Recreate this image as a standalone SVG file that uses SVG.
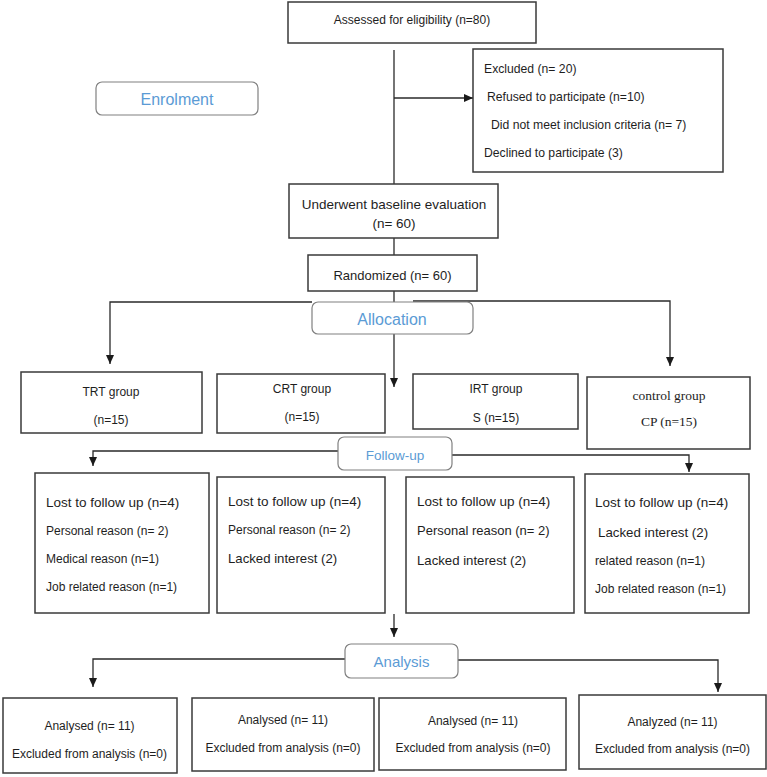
<svg xmlns="http://www.w3.org/2000/svg" width="767" height="777" viewBox="0 0 767 777">
<defs>
<marker id="ah" markerUnits="userSpaceOnUse" markerWidth="9" markerHeight="9" viewBox="0 0 9 9" refX="9" refY="4.5" orient="auto">
<path d="M0,0.5 L9,4.5 L0,8.5 Z" fill="#1a1a1a"/>
</marker>
<style>
.box{fill:#fff;stroke:#3a3a3a;stroke-width:1.5}
.rbox{fill:#fff;stroke:#808080;stroke-width:1.2}
.ln{fill:none;stroke:#2a2a2a;stroke-width:1.3}
.t{font-family:"Liberation Sans",Arial,sans-serif;fill:#1e1e1e}
.c{text-anchor:middle}
.b{font-family:"Liberation Sans",Arial,sans-serif;fill:#5b9bd5;text-anchor:middle}
.s{font-family:"Liberation Serif","Times New Roman",serif;fill:#1e1e1e;text-anchor:middle}
</style>
</defs>
<rect width="767" height="777" fill="#fff"/>

<g id="connectors">
<line class="ln" x1="394" y1="50" x2="394" y2="184"/>
<line class="ln" x1="394" y1="98" x2="473" y2="98" marker-end="url(#ah)"/>
<line class="ln" x1="394" y1="238" x2="394" y2="255"/>
<line class="ln" x1="394" y1="291" x2="394" y2="302"/>
<polyline class="ln" points="312,302 110,302 110,364" marker-end="url(#ah)"/>
<polyline class="ln" points="413,301 670,301 670,366" marker-end="url(#ah)"/>
<line class="ln" x1="394" y1="334" x2="394" y2="387" marker-end="url(#ah)"/>
<polyline class="ln" points="338,451 93,451 93,466" marker-end="url(#ah)"/>
<polyline class="ln" points="452,455 689,455 689,472" marker-end="url(#ah)"/>
<line class="ln" x1="394" y1="614" x2="394" y2="637" marker-end="url(#ah)"/>
<polyline class="ln" points="345,659 93,659 93,687" marker-end="url(#ah)"/>
<polyline class="ln" points="458,660 718,660 718,692" marker-end="url(#ah)"/>
</g>

<g id="assessed">
<rect class="box" x="288" y="2" width="248" height="41"/>
<text class="t c" x="412" y="24.3" font-size="12">Assessed for eligibility (n=80)</text>
</g>

<g id="enrolment">
<rect class="rbox" x="96" y="82" width="162" height="33" rx="6"/>
<text class="b" x="177" y="104.7" font-size="16">Enrolment</text>
</g>

<g id="excluded">
<rect class="box" x="473" y="49" width="250" height="123"/>
<text class="t" x="484" y="73.4" font-size="12.2">Excluded (n= 20)</text>
<text class="t" x="487" y="101.4" font-size="12.2">Refused to participate (n=10)</text>
<text class="t" x="491" y="129.4" font-size="12.2">Did not meet inclusion criteria (n= 7)</text>
<text class="t" x="484" y="157.4" font-size="12.2">Declined to participate (3)</text>
</g>

<g id="baseline">
<rect class="box" x="289" y="184" width="209" height="54"/>
<text class="t c" x="394" y="208.9" font-size="13.5">Underwent baseline evaluation</text>
<text class="t c" x="394" y="227.9" font-size="13.5">(n= 60)</text>
</g>

<g id="randomized">
<rect class="box" x="308" y="255" width="169" height="36"/>
<text class="t c" x="392.5" y="279.5" font-size="13">Randomized (n= 60)</text>
</g>

<g id="allocation">
<rect class="rbox" x="312" y="302" width="161" height="32" rx="6"/>
<text class="b" x="392" y="324.8" font-size="16">Allocation</text>
</g>

<g id="trt">
<rect class="box" x="21" y="372" width="181" height="61"/>
<text class="t c" x="111" y="395.5" font-size="12">TRT group</text>
<text class="t c" x="111" y="423.5" font-size="12">(n=15)</text>
</g>

<g id="crt">
<rect class="box" x="217" y="374" width="168" height="59"/>
<text class="t c" x="302" y="392.5" font-size="12">CRT group</text>
<text class="t c" x="302" y="420.5" font-size="12">(n=15)</text>
</g>

<g id="irt">
<rect class="box" x="413" y="374" width="165" height="55"/>
<text class="t c" x="496" y="392.5" font-size="12">IRT group</text>
<text class="t c" x="496" y="421.5" font-size="12">S (n=15)</text>
</g>

<g id="control">
<rect class="box" x="587" y="377" width="163" height="72"/>
<text class="s" x="669" y="399.5" font-size="13.5">control group</text>
<text class="s" x="669" y="425.5" font-size="13.5">CP (n=15)</text>
</g>

<g id="followup">
<rect class="rbox" x="338" y="437" width="114" height="33" rx="6"/>
<text class="b" x="395" y="459.9" font-size="13.5">Follow-up</text>
</g>

<g id="fu1">
<rect class="box" x="35" y="473" width="174" height="140"/>
<text class="t" x="46" y="506.9" font-size="13.5">Lost to follow up (n=4)</text>
<text class="t" x="46" y="535.3" font-size="12">Personal reason (n= 2)</text>
<text class="t" x="46" y="563.3" font-size="12">Medical reason (n=1)</text>
<text class="t" x="46" y="591.3" font-size="12">Job related reason (n=1)</text>
</g>

<g id="fu2">
<rect class="box" x="217" y="477" width="168" height="136"/>
<text class="t" x="228" y="505.9" font-size="13.5">Lost to follow up (n=4)</text>
<text class="t" x="228" y="534.3" font-size="12">Personal reason (n= 2)</text>
<text class="t" x="228" y="562.8" font-size="13.2">Lacked interest (2)</text>
</g>

<g id="fu3">
<rect class="box" x="406" y="477" width="168" height="136"/>
<text class="t" x="417" y="505.9" font-size="13.5">Lost to follow up (n=4)</text>
<text class="t" x="417" y="534.7" font-size="13">Personal reason (n= 2)</text>
<text class="t" x="417" y="564.8" font-size="13.2">Lacked interest (2)</text>
</g>

<g id="fu4">
<rect class="box" x="585" y="474" width="164" height="139"/>
<text class="t" x="595" y="506.9" font-size="13.5">Lost to follow up (n=4)</text>
<text class="t" x="598" y="536.8" font-size="13.3">Lacked interest (2)</text>
<text class="t" x="595" y="565.4" font-size="12.2">related reason (n=1)</text>
<text class="t" x="595" y="593.3" font-size="12">Job related reason (n=1)</text>
</g>

<g id="analysis">
<rect class="rbox" x="345" y="644" width="113" height="34" rx="6"/>
<text class="b" x="401.5" y="667.4" font-size="15">Analysis</text>
</g>

<g id="an1">
<rect class="box" x="3" y="698" width="174" height="75"/>
<text class="t c" x="89.5" y="730.3" font-size="12">Analysed (n= 11)</text>
<text class="t c" x="89.5" y="758.3" font-size="12">Excluded from analysis (n=0)</text>
</g>

<g id="an2">
<rect class="box" x="192" y="698" width="182" height="73"/>
<text class="t c" x="283" y="724.3" font-size="12">Analysed (n= 11)</text>
<text class="t c" x="283" y="752.3" font-size="12">Excluded from analysis (n=0)</text>
</g>

<g id="an3">
<rect class="box" x="379" y="698" width="187" height="72"/>
<text class="t c" x="473" y="725.3" font-size="12">Analysed (n= 11)</text>
<text class="t c" x="473" y="752.3" font-size="12">Excluded from analysis (n=0)</text>
</g>

<g id="an4">
<rect class="box" x="579" y="695" width="187" height="74"/>
<text class="t c" x="672.5" y="726.3" font-size="12">Analyzed (n= 11)</text>
<text class="t c" x="672.5" y="753.3" font-size="12">Excluded from analysis (n=0)</text>
</g>
</svg>
